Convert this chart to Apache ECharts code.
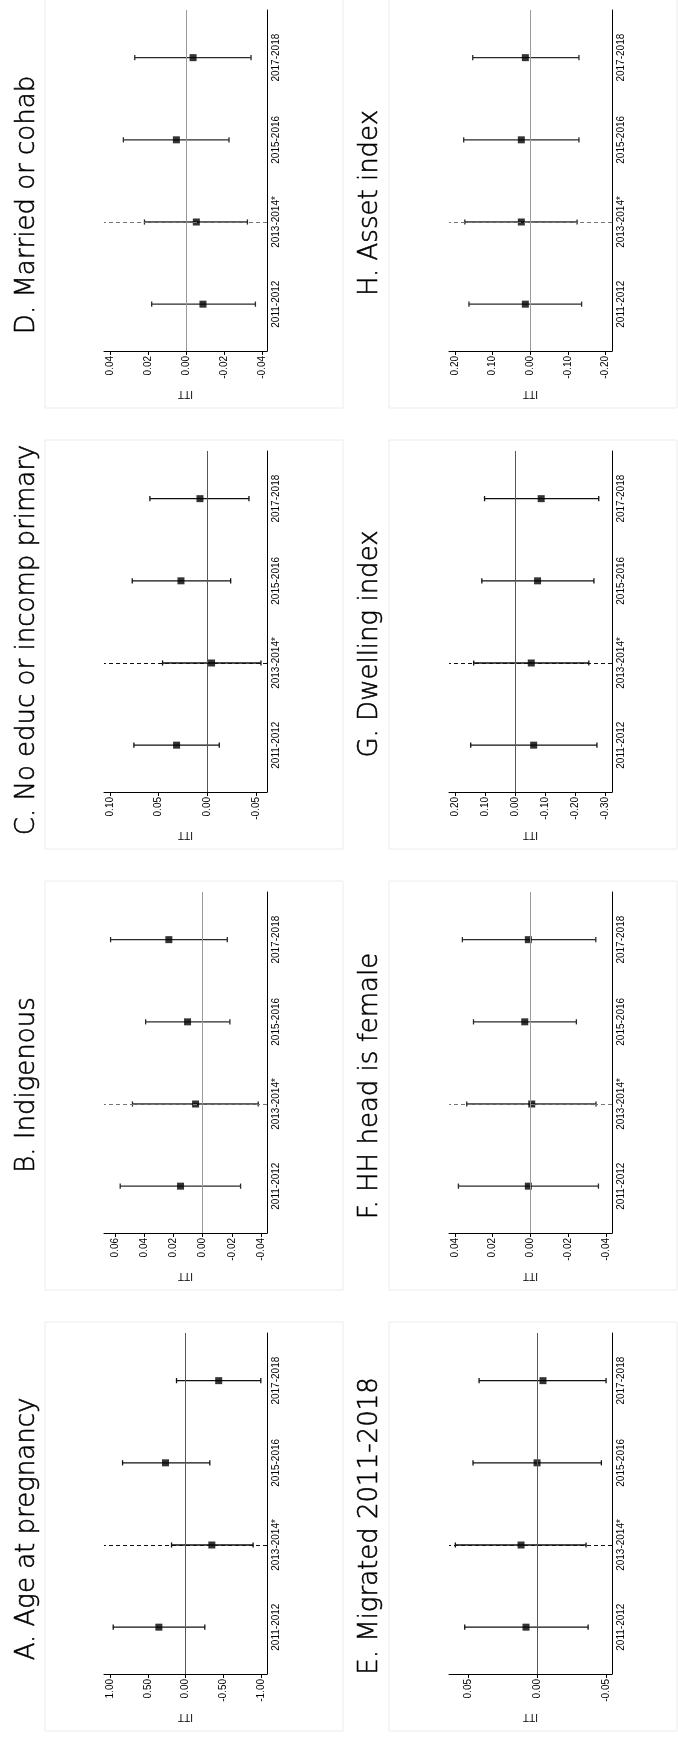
<!DOCTYPE html>
<html>
<head>
<meta charset="utf-8">
<script src="https://cdn.jsdelivr.net/npm/echarts@6/dist/echarts.min.js"></script>
<style>
html,body{margin:0;padding:0;background:#fff;}
#chart{width:678px;height:1738px;}
</style>
</head>
<body>
<div id="chart"></div>
<script>
// Categories (period of survey)
const periods = ['2011-2012', '2013-2014*', '2015-2016', '2017-2018'];
const dashedPeriod = '2013-2014*';

// Panel titles
const titles = ['A. Age at pregnancy', 'B. Indigenous', 'C. No educ or incomp primary', 'D. Married or cohab',
                'E. Migrated 2011-2018', 'F. HH head is female', 'G. Dwelling index', 'H. Asset index'];

// ITT estimates, lower and upper confidence bounds (order follows periods)
const aEst = [0.353, -0.349, 0.265, -0.440];
const aLo  = [-0.256, -0.896, -0.322, -0.998];
const aHi  = [0.958, 0.185, 0.834, 0.119];

const bEst = [0.0151, 0.0048, 0.0103, 0.0231];
const bLo  = [-0.0260, -0.0381, -0.0187, -0.0169];
const bHi  = [0.0564, 0.0480, 0.0390, 0.0630];

const cEst = [0.0315, -0.0044, 0.0270, 0.0075];
const cLo  = [-0.0123, -0.0551, -0.0240, -0.0428];
const cHi  = [0.0753, 0.0459, 0.0770, 0.0589];

const dEst = [-0.0089, -0.0054, 0.0051, -0.0037];
const dLo  = [-0.0365, -0.0323, -0.0226, -0.0342];
const dHi  = [0.0181, 0.0219, 0.0330, 0.0270];

const eEst = [0.0080, 0.0116, 0.0000, -0.0043];
const eLo  = [-0.0370, -0.0355, -0.0466, -0.0500];
const eHi  = [0.0524, 0.0592, 0.0464, 0.0420];

const fEst = [0.0011, -0.0007, 0.0030, 0.0011];
const fLo  = [-0.0361, -0.0348, -0.0244, -0.0347];
const fHi  = [0.0382, 0.0338, 0.0302, 0.0361];

const gEst = [-0.061, -0.053, -0.074, -0.086];
const gLo  = [-0.271, -0.244, -0.261, -0.277];
const gHi  = [0.148, 0.138, 0.111, 0.102];

const hEst = [0.0133, 0.0240, 0.0240, 0.0133];
const hLo  = [-0.136, -0.124, -0.129, -0.129];
const hHi  = [0.163, 0.174, 0.177, 0.153];

// Value-axis tick labels per panel
const aTicks = [1, 0.5, 0, -0.5, -1];
const bTicks = [0.06, 0.04, 0.02, 0, -0.02, -0.04];
const cTicks = [0.1, 0.05, 0, -0.05];
const dTicks = [0.04, 0.02, 0, -0.02, -0.04];
const eTicks = [0.05, 0, -0.05];
const fTicks = [0.04, 0.02, 0, -0.02, -0.04];
const gTicks = [0.2, 0.1, 0, -0.1, -0.2, -0.3];
const hTicks = [0.2, 0.1, 0, -0.1, -0.2];

// Value-axis ranges per panel [min, max]
const aRange = [-1.08, 1.08];
const bRange = [-0.0441, 0.0675];
const cRange = [-0.0613, 0.106];
const dRange = [-0.0426, 0.0432];
const eRange = [-0.0543, 0.0638];
const fRange = [-0.0433, 0.0432];
const gRange = [-0.321, 0.22];
const hRange = [-0.2167, 0.216];

const panels = [
  {est: aEst, lo: aLo, hi: aHi, ticks: aTicks, range: aRange},
  {est: bEst, lo: bLo, hi: bHi, ticks: bTicks, range: bRange},
  {est: cEst, lo: cLo, hi: cHi, ticks: cTicks, range: cRange},
  {est: dEst, lo: dLo, hi: dHi, ticks: dTicks, range: dRange},
  {est: eEst, lo: eLo, hi: eHi, ticks: eTicks, range: eRange},
  {est: fEst, lo: fLo, hi: fHi, ticks: fTicks, range: fRange},
  {est: gEst, lo: gLo, hi: gHi, ticks: gTicks, range: gRange},
  {est: hEst, lo: hLo, hi: hHi, ticks: hTicks, range: hRange}
];

// layout: column 0 = A..D, column 1 = E..H ; row from top: D/H, C/G, B/F, A/E
const rowBase = [0, 441, 882, 1323];
const colOff = 345;
const labelFont = '"Liberation Sans", Arial, sans-serif';

const grids = [], xAxes = [], yAxes = [], series = [], graphics = [];

panels.forEach((p, i) => {
  const col = i < 4 ? 0 : 1;
  const row = 3 - (i % 4);
  const base = rowBase[row];
  const ox = col * colOff;
  const dark = (i % 2 === 0);
  const zeroColor = dark ? '#555' : '#9a9a9a';
  const dashColor = dark ? '#111' : '#777';
  const barColor = dark ? '#111' : '#2a2a2a';

  grids.push({left: 104 + ox, top: base + 10, width: 163, height: 341, containLabel: false});

  xAxes.push({
    type: 'value', gridIndex: i, inverse: true, position: 'bottom',
    min: p.range[0], max: p.range[1],
    splitLine: {show: false},
    axisLine: {show: true, onZero: false, lineStyle: {color: '#000', width: 1}},
    axisTick: {show: true, length: 4, lineStyle: {color: '#000'}, customValues: p.ticks},
    axisLabel: {
      customValues: p.ticks, rotate: 90, margin: 5, fontSize: 10, color: '#000',
      fontFamily: labelFont, formatter: v => Number(v).toFixed(2)
    }
  });

  yAxes.push({
    type: 'value', gridIndex: i, position: 'right', min: 0.43, max: 4.58,
    splitLine: {show: false},
    axisLine: {show: true, onZero: false, lineStyle: {color: '#000', width: 1}},
    axisTick: {show: false},
    axisLabel: {
      customValues: [1, 2, 3, 4], rotate: 90, margin: 4, fontSize: 10, color: '#000',
      fontFamily: labelFont, formatter: v => periods[Math.round(v) - 1]
    }
  });

  // reference lines: zero and the dashed period
  series.push({
    type: 'line', xAxisIndex: i, yAxisIndex: i, data: [], z: 1, silent: true,
    markLine: {
      silent: true, symbol: ['none', 'none'], label: {show: false}, animation: false,
      data: [
        {xAxis: 0, lineStyle: {type: 'solid', color: zeroColor, width: 1}},
        {yAxis: periods.indexOf(dashedPeriod) + 1, lineStyle: {type: [4, 3], color: dashColor, width: 1.1}}
      ]
    }
  });

  // confidence intervals
  series.push({
    type: 'custom', xAxisIndex: i, yAxisIndex: i, z: 2, silent: true,
    data: periods.map((c, k) => [k + 1, p.est[k], p.lo[k], p.hi[k]]),
    encode: {x: [1, 2, 3], y: 0},
    renderItem: (params, api) => {
      const pos = api.value(0);
      const a = api.coord([api.value(2), pos]);
      const b = api.coord([api.value(3), pos]);
      const cap = 2.6;
      const st = {stroke: barColor, lineWidth: 1.3};
      return {type: 'group', children: [
        {type: 'line', shape: {x1: a[0], y1: a[1], x2: b[0], y2: b[1]}, style: st},
        {type: 'line', shape: {x1: a[0], y1: a[1] - cap, x2: a[0], y2: a[1] + cap}, style: st},
        {type: 'line', shape: {x1: b[0], y1: b[1] - cap, x2: b[0], y2: b[1] + cap}, style: st}
      ]};
    }
  });

  // point estimates
  series.push({
    type: 'scatter', xAxisIndex: i, yAxisIndex: i, z: 3, silent: true,
    symbol: 'rect', symbolSize: 7, itemStyle: {color: '#000'},
    data: periods.map((c, k) => [p.est[k], k + 1])
  });

  // faint panel frame
  graphics.push({
    type: 'rect', silent: true, z: -1,
    shape: {x: (col ? 389 : 45), y: base - 1, width: (col ? 288 : 298), height: 409},
    style: {fill: 'none', stroke: '#ececec', lineWidth: 1}
  });

  // title (rotated)
  const titleY = [206, 203, 199, 205, 203, 204, 203, 203][i];
  graphics.push({
    type: 'text', silent: true, x: (col ? 370 : 27), y: base + titleY, rotation: Math.PI / 2,
    style: {text: titles[i], x: 0, y: 0, align: 'center', verticalAlign: 'middle',
            fontSize: 26, fontFamily: '"DejaVu Sans", sans-serif', fontWeight: 300,
            fill: '#000', stroke: '#000', lineWidth: 0.55}
  });

  // axis title ITT (upside down, as in the rotated original)
  graphics.push({
    type: 'text', silent: true, x: 185.5 + ox, y: base + 394, rotation: Math.PI,
    style: {text: 'ITT', x: 0, y: 0, align: 'center', verticalAlign: 'middle',
            fontSize: 10, fontFamily: labelFont, fill: '#000'}
  });
});

const chart = echarts.init(document.getElementById('chart'), null, {renderer: 'canvas'});
chart.setOption({
  animation: false,
  backgroundColor: '#fff',
  grid: grids,
  xAxis: xAxes,
  yAxis: yAxes,
  series: series,
  graphic: graphics
});
</script>
</body>
</html>
